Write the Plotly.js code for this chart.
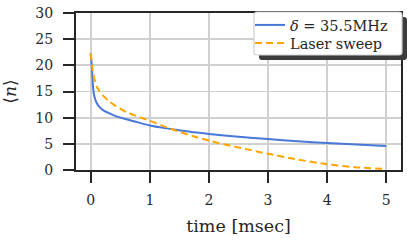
<!DOCTYPE html>
<html>
<head>
<meta charset="utf-8">
<script src="https://cdn.plot.ly/plotly-3.0.1.min.js"></script>
<style>html,body{margin:0;padding:0;background:#fff;}#chart{width:407px;height:241px;}</style>
</head>
<body>
<div id="chart"></div>
<script>
const timeMs = [0, 0.02, 0.04, 0.06, 0.1, 0.15, 0.2, 0.3, 0.4, 0.6, 0.8, 1.0, 1.25, 1.5, 1.75, 2.0, 2.5, 3.0, 3.5, 4.0, 4.5, 5.0];
const detuned = [22.3, 19.4, 15.6, 14.1, 12.8, 12.0, 11.5, 10.9, 10.4, 9.7, 9.1, 8.5, 8.0, 7.6, 7.2, 6.9, 6.35, 5.9, 5.5, 5.15, 4.85, 4.6];
const laserSweep = [22.3, 20.0, 18.5, 17.5, 16.0, 15.0, 14.3, 13.2, 12.4, 11.1, 10.2, 9.4, 8.3, 7.3, 6.4, 5.6, 4.3, 3.1, 2.0, 1.1, 0.5, 0.2];
const xTicks = [0, 1, 2, 3, 4, 5];
const yTicks = [0, 5, 10, 15, 20, 25, 30];
const names = ['<i>δ</i> = 35.5MHz', 'Laser sweep'];

const font = "'DejaVu Serif', serif";
const ink = '#262626';
const W = 407, H = 241;
const M = {l: 76, r: 6, t: 13, b: 71};
const pw = W - M.l - M.r, ph = H - M.t - M.b;

// pixel -> paper helpers for the legend frame decoration
function px(x) { return (x - M.l) / pw; }
function py(y) { return (H - M.b - y) / ph; }
function roundRect(x0, y0, x1, y1, r) {
  const rx = r / pw, ry = r / ph;
  const a = px(x0), b = px(x1), top = py(y0), bot = py(y1);
  return 'M' + (a + rx) + ',' + top +
    ' L' + (b - rx) + ',' + top + ' Q' + b + ',' + top + ' ' + b + ',' + (top - ry) +
    ' L' + b + ',' + (bot + ry) + ' Q' + b + ',' + bot + ' ' + (b - rx) + ',' + bot +
    ' L' + (a + rx) + ',' + bot + ' Q' + a + ',' + bot + ' ' + a + ',' + (bot + ry) +
    ' L' + a + ',' + (top - ry) + ' Q' + a + ',' + top + ' ' + (a + rx) + ',' + top + ' Z';
}

const axisCommon = {
  showline: true, linecolor: ink, linewidth: 2, mirror: true,
  ticks: 'outside', ticklen: 11, tickwidth: 2, tickcolor: ink,
  showgrid: true, gridcolor: '#d0d0d0', gridwidth: 1.8, zeroline: false,
  tickfont: {family: font, size: 14, color: ink}
};

const traces = [
  {x: timeMs, y: detuned, type: 'scatter', mode: 'lines', name: names[0], legend: 'legend',
   line: {color: '#4878d8', width: 2, shape: 'spline', smoothing: 0.6}},
  {x: timeMs, y: laserSweep, type: 'scatter', mode: 'lines', name: names[1], legend: 'legend2',
   line: {color: '#ffa500', width: 2, dash: '7px,4px', shape: 'spline', smoothing: 0.6}}
];

const legendBase = {
  x: px(250), xanchor: 'left', yanchor: 'middle',
  bgcolor: 'rgba(0,0,0,0)', borderwidth: 0,
  font: {family: font, size: 14.5, color: ink}
};

const layout = {
  width: W, height: H,
  margin: M,
  paper_bgcolor: '#ffffff', plot_bgcolor: '#ffffff',
  showlegend: true,
  xaxis: Object.assign({}, axisCommon, {
    range: [-0.25, 5.25], tickvals: xTicks, ticktext: xTicks.map(String),
    ticklabelstandoff: 5,
    title: {text: 'time [msec]', font: {family: font, size: 17.5, color: ink}, standoff: 13}
  }),
  yaxis: Object.assign({}, axisCommon, {
    range: [0, 30], tickvals: yTicks, ticktext: yTicks.map(String),
    ticklabelstandoff: 7,
    title: {text: '⟨<i>n</i>⟩', font: {family: font, size: 17, color: ink}, standoff: 14}
  }),
  legend: Object.assign({}, legendBase, {y: py(25)}),
  legend2: Object.assign({}, legendBase, {y: py(43)}),
  shapes: [
    {type: 'path', xref: 'paper', yref: 'paper', layer: 'above',
     path: roundRect(259, 17, 407, 60, 3), fillcolor: '#3c3c3c', line: {width: 0}},
    {type: 'path', xref: 'paper', yref: 'paper', layer: 'above',
     path: roundRect(254, 12, 402, 55, 3), fillcolor: '#ffffff', line: {color: '#d0d0d0', width: 1.2}}
  ]
};

Plotly.newPlot('chart', traces, layout, {displayModeBar: false, staticPlot: true});
</script>
</body>
</html>
